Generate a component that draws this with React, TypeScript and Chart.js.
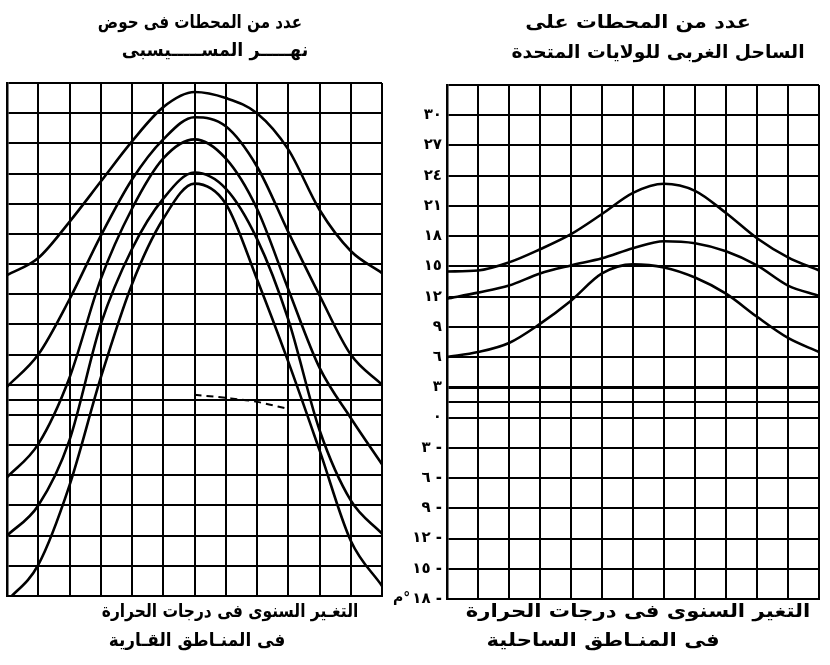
import React, { useEffect, useRef } from "react";
import { Chart, registerables } from "chart.js";
Chart.register(...registerables);

// ---- data ----
const months = ["يناير", "فبراير", "مارس", "أبريل", "مايو", "يونيو", "يوليو", "أغسطس", "سبتمبر", "أكتوبر", "نوفمبر", "ديسمبر", "يناير"];

// continental stations (Mississippi basin), °C
const contA = [13.9, 15.6, 19.2, 23.2, 27.2, 30.6, 32.1, 31.5, 30.0, 26.4, 20.4, 16.3, 14.1];
const contB = [2.8, 6.0, 11.5, 17.8, 23.4, 27.4, 29.6, 28.7, 24.7, 18.2, 11.9, 6.0, 3.0];
const contC = [-6.2, -2.9, 3.7, 13.5, 20.5, 25.5, 27.4, 25.5, 20.5, 12.5, 4.7, -0.3, -4.9];
const contD = [-12.0, -9.0, -2.5, 9.0, 16.5, 21.5, 24.1, 22.5, 17.5, 9.5, -1.5, -8.5, -11.8];
const contE = [-18.5, -14.9, -7.0, 3.7, 13.0, 19.5, 23.0, 21.0, 13.5, 5.3, -3.5, -12.5, -17.0];
const contMark = [null, null, null, null, null, null, 2.0, 1.7, 1.3, 0.6, null, null, null];

// coastal stations (US west coast), °C
const coastA = [14.5, 14.6, 15.4, 16.7, 18.2, 20.2, 22.3, 23.2, 22.5, 20.3, 17.8, 15.9, 14.6];
const coastB = [11.8, 12.4, 13.1, 14.3, 15.1, 15.8, 16.8, 17.5, 17.3, 16.5, 15.1, 13.1, 12.1];
const coastC = [6.0, 6.5, 7.4, 9.3, 11.6, 14.3, 15.2, 14.9, 13.9, 12.3, 10.0, 7.9, 6.5];

const yTicks = [-18, -15, -12, -9, -6, -3, 0, 1.5, 3, 6, 9, 12, 15, 18, 21, 24, 27, 30, 33];
const yMin = -18;
const yMax = 33;

const leftTitle = ["عدد من المحطات فى حوض", "نهـــــر المســـــيسبى"];
const rightTitle = ["عدد من المحطات على", "الساحل الغربى للولايات المتحدة"];
const leftCaption = ["التغـير السنوى فى درجات الحرارة", "فى المنـاطق القـارية"];
const rightCaption = ["التغير السنوى فى درجات الحرارة", "فى المنـاطق الساحلية"];
const unitLabel = "م°";

const arabicDigits = ["٠", "١", "٢", "٣", "٤", "٥", "٦", "٧", "٨", "٩"];
const toArabic = (n: number) => String(n).split("").map((c) => (c >= "0" && c <= "9" ? arabicDigits[+c] : c)).join("");
const tickLabel = (v: number) => {
  if (v === 33 || v === 1.5) return "";
  if (v === 0) return "٠";
  if (v < 0) return toArabic(-v) + " -";
  return toArabic(v);
};

const FONT = '"DejaVu Sans", sans-serif';

function makeOptions(showLabels: boolean, pad: any, yWidth: number, thick3: boolean) {
  return {
    responsive: false,
    animation: false as const,
    layout: { padding: pad },
    plugins: { legend: { display: false }, tooltip: { enabled: false } },
    elements: { point: { radius: 0 } },
    scales: {
      x: {
        type: "category" as const,
        offset: false,
        grid: { color: "#000", lineWidth: 2, drawTicks: false },
        border: { display: true, color: "#000", width: 2 },
        ticks: { display: false },
        afterFit: (s: any) => { s.height = 0; },
      },
      y: {
        type: "linear" as const,
        min: yMin,
        max: yMax,
        afterBuildTicks: (s: any) => { s.ticks = yTicks.map((v) => ({ value: v })); },
        grid: {
          color: "#000",
          lineWidth: (c: any) => (thick3 && c.tick && c.tick.value === 3 ? 3 : 2),
          drawTicks: false,
        },
        border: { display: true, color: "#000", width: 2.5 },
        ticks: {
          display: showLabels,
          autoSkip: false,
          padding: 5,
          color: "#000",
          font: { family: FONT, size: 15, weight: "bold" as const },
          callback: (v: any) => tickLabel(Number(v)),
        },
        afterFit: (s: any) => { s.width = yWidth; },
      },
    },
  };
}

const lineDs = (data: (number | null)[], extra: any = {}) => ({
  data,
  borderColor: "#000",
  borderWidth: 2.6,
  cubicInterpolationMode: "monotone",
  fill: false,
  pointRadius: 0,
  spanGaps: false,
  ...extra,
});

function Text({ x, y, text, sx = 1 }: { x: number; y: number; text: string; sx?: number }) {
  return (
    <div
      dir="rtl"
      style={{
        position: "absolute",
        left: x,
        top: y,
        transform: `translate(-50%, -50%) scaleX(${sx})`,
        whiteSpace: "nowrap",
        fontFamily: FONT,
        fontWeight: "bold",
        fontSize: 18,
        lineHeight: "26px",
        color: "#000",
      }}
    >
      {text}
    </div>
  );
}

export default function App() {
  const leftRef = useRef<HTMLCanvasElement>(null);
  const rightRef = useRef<HTMLCanvasElement>(null);

  useEffect(() => {
    const left = new Chart(leftRef.current!, {
      type: "line",
      data: {
        labels: months,
        datasets: [
          lineDs(contA),
          lineDs(contB),
          lineDs(contC),
          lineDs(contD),
          lineDs(contE),
          lineDs(contMark, { borderDash: [7, 5], borderWidth: 2 }),
        ],
      },
      options: makeOptions(false, { left: 7, right: 3, top: 83, bottom: 69 }, 0, false) as any,
    });
    const right = new Chart(rightRef.current!, {
      type: "line",
      data: {
        labels: months,
        datasets: [lineDs(coastA), lineDs(coastB), lineDs(coastC)],
      },
      options: makeOptions(true, { left: 0, right: 11, top: 85, bottom: 66 }, 62, true) as any,
    });
    return () => {
      left.destroy();
      right.destroy();
    };
  }, []);

  return (
    <div style={{ position: "absolute", left: 0, top: 0, width: 830, height: 665, background: "#fff", overflow: "hidden" }}>
      <canvas ref={leftRef} width={385} height={665} style={{ position: "absolute", left: 0, top: 0 }} />
      <canvas ref={rightRef} width={445} height={665} style={{ position: "absolute", left: 385, top: 0 }} />
      <Text x={200} y={22} text={leftTitle[0]} sx={0.84} />
      <Text x={215} y={50} text={leftTitle[1]} sx={0.97} />
      <Text x={638} y={22} text={rightTitle[0]} sx={1.15} />
      <Text x={658} y={52} text={rightTitle[1]} sx={1.04} />
      <Text x={230} y={611} text={leftCaption[0]} sx={0.86} />
      <Text x={197} y={640} text={leftCaption[1]} sx={0.94} />
      <Text x={638} y={611} text={rightCaption[0]} sx={1.18} />
      <Text x={603} y={640} text={rightCaption[1]} sx={1.18} />
      <div style={{ position: "absolute", left: 393, top: 589, fontFamily: FONT, fontWeight: "bold", fontSize: 14, color: "#000", whiteSpace: "nowrap", direction: "ltr", unicodeBidi: "bidi-override" }}>
        {unitLabel}
      </div>
    </div>
  );
}
